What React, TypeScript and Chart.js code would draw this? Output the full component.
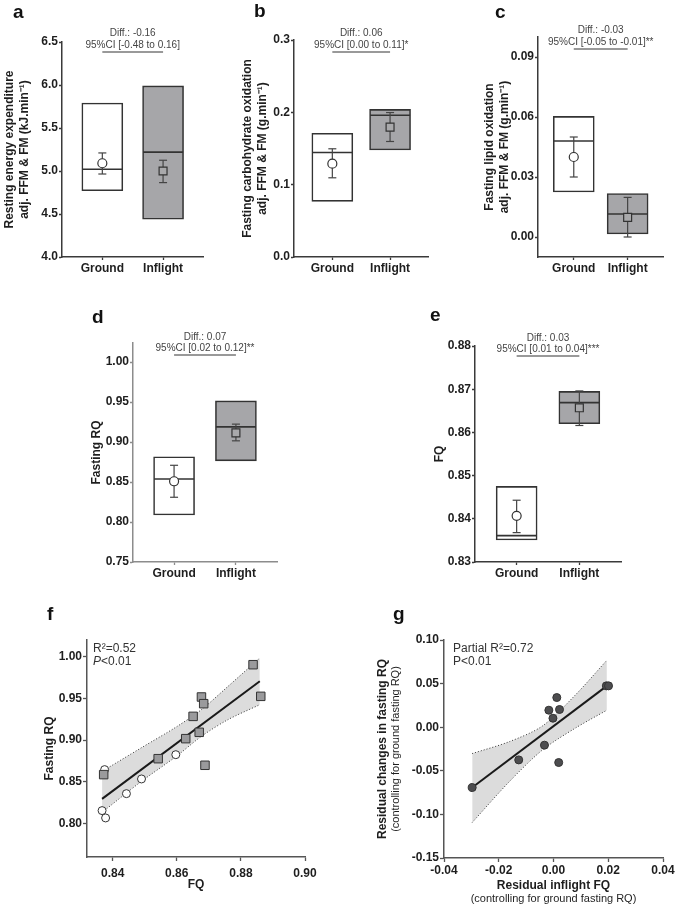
import React, { useEffect, useRef } from 'react';
import { Chart, registerables } from 'chart.js';

Chart.register(...registerables);

const FONT = "'Liberation Sans', Arial, Helvetica, sans-serif";
Chart.defaults.font.family = FONT;
Chart.defaults.color = '#222';

// ---------------- shared categories ----------------
const CATEGORIES = ['Ground', 'Inflight'];
const CATEGORY_X = [1, 2];
const CAT_X_MIN = 0.336;
const CAT_X_MAX = 2.664;

// ---------------- a: resting energy expenditure ----------------
const REE_BOX_LOW = [4.77, 4.44];
const REE_BOX_HIGH = [5.79, 5.99];
const REE_MEDIAN = [5.02, 5.22];
const REE_MEAN = [5.09, 5.0];
const REE_ERR_LOW = [4.965, 4.865];
const REE_ERR_HIGH = [5.21, 5.125];
const REE_TICKS = [4.0, 4.5, 5.0, 5.5, 6.0, 6.5];
const REE_TICK_LABELS = ['4.0', '4.5', '5.0', '5.5', '6.0', '6.5'];

// ---------------- b: carbohydrate oxidation ----------------
const CHO_BOX_LOW = [0.077, 0.148];
const CHO_BOX_HIGH = [0.171, 0.204];
const CHO_MEDIAN = [0.1445, 0.196];
const CHO_MEAN = [0.129, 0.1795];
const CHO_ERR_LOW = [0.1095, 0.1597];
const CHO_ERR_HIGH = [0.1496, 0.1997];
const CHO_TICKS = [0.0, 0.1, 0.2, 0.3];
const CHO_TICK_LABELS = ['0.0', '0.1', '0.2', '0.3'];

// ---------------- c: lipid oxidation ----------------
const LIP_BOX_LOW = [0.0225, 0.0015];
const LIP_BOX_HIGH = [0.0603, 0.0217];
const LIP_MEDIAN = [0.048, 0.0115];
const LIP_MEAN = [0.04, 0.0098];
const LIP_ERR_LOW = [0.03, 0.0];
const LIP_ERR_HIGH = [0.05, 0.0198];
const LIP_TICKS = [0.0, 0.03, 0.06, 0.09];
const LIP_TICK_LABELS = ['0.00', '0.03', '0.06', '0.09'];

// ---------------- d: fasting RQ ----------------
const RQ_BOX_LOW = [0.8088, 0.8766];
const RQ_BOX_HIGH = [0.8816, 0.9516];
const RQ_MEDIAN = [0.8538, 0.919];
const RQ_MEAN = [0.851, 0.9116];
const RQ_ERR_LOW = [0.831, 0.9016];
const RQ_ERR_HIGH = [0.871, 0.9225];
const RQ_TICKS = [0.75, 0.8, 0.85, 0.9, 0.95, 1.0];
const RQ_TICK_LABELS = ['0.75', '0.80', '0.85', '0.90', '0.95', '1.00'];

// ---------------- e: FQ ----------------
const FQ_BOX_LOW = [0.8351, 0.862];
const FQ_BOX_HIGH = [0.8475, 0.8695];
const FQ_MEDIAN = [0.8361, 0.8669];
const FQ_MEAN = [0.8407, 0.8657];
const FQ_ERR_LOW = [0.8368, 0.8616];
const FQ_ERR_HIGH = [0.8443, 0.8696];
const FQ_TICKS = [0.83, 0.84, 0.85, 0.86, 0.87, 0.88];
const FQ_TICK_LABELS = ['0.83', '0.84', '0.85', '0.86', '0.87', '0.88'];

// ---------------- f: Fasting RQ vs FQ ----------------
const F_GROUND_FQ = [0.8375, 0.8367, 0.8378, 0.8443, 0.849, 0.8597];
const F_GROUND_RQ = [0.8647, 0.8156, 0.8068, 0.8359, 0.8535, 0.8826];
const F_INFLIGHT_FQ = [0.8372, 0.8542, 0.8628, 0.8651, 0.867, 0.8677, 0.8684, 0.8688, 0.8838, 0.8862];
const F_INFLIGHT_RQ = [0.8587, 0.8778, 0.9018, 0.9285, 0.9094, 0.9517, 0.9437, 0.8699, 0.9904, 0.9525];
const F_FIT_X = [0.8367, 0.8859];
const F_FIT_Y = [0.8296, 0.9705];
const F_BAND_X = [0.8367, 0.849, 0.86, 0.8677, 0.876, 0.8859];
const F_BAND_UPPER = [0.8626, 0.891, 0.9162, 0.9366, 0.9645, 0.9984];
const F_BAND_LOWER = [0.8135, 0.8507, 0.881, 0.9046, 0.9246, 0.9425];
const F_X_TICKS = [0.84, 0.86, 0.88, 0.9];
const F_X_LABELS = ['0.84', '0.86', '0.88', '0.90'];
const F_Y_TICKS = [0.8, 0.85, 0.9, 0.95, 1.0];
const F_Y_LABELS = ['0.80', '0.85', '0.90', '0.95', '1.00'];

// ---------------- g: residuals ----------------
const G_RES_FQ = [-0.0297, -0.0127, -0.0033, -0.0017, -0.0002, 0.0012, 0.0022, 0.0019, 0.0193, 0.0201];
const G_RES_RQ = [-0.0692, -0.0375, -0.0206, 0.0195, 0.0103, 0.034, 0.0203, -0.0405, 0.0474, 0.0474];
const G_FIT_X = [-0.0297, 0.0195];
const G_FIT_Y = [-0.0692, 0.0474];
const G_BAND_X = [-0.0297, -0.016, -0.004, 0.008, 0.0195];
const G_BAND_UPPER = [-0.0302, -0.0164, 0.0015, 0.037, 0.0768];
const G_BAND_LOWER = [-0.1093, -0.062, -0.026, -0.001, 0.0195];
const G_X_TICKS = [-0.04, -0.02, 0.0, 0.02, 0.04];
const G_X_LABELS = ['-0.04', '-0.02', '0.00', '0.02', '0.04'];
const G_Y_TICKS = [-0.15, -0.1, -0.05, 0.0, 0.05, 0.1];
const G_Y_LABELS = ['-0.15', '-0.10', '-0.05', '0.00', '0.05', '0.10'];

// ---------------- styles ----------------
const GROUND_FILL = '#ffffff';
const INFLIGHT_FILL = '#a6a6a9';
const INFLIGHT_MARK = '#a9a9ab';
const LINE_DARK = '#333333';
const ERR_COLOR = '#444444';
const TEXT_DARK = '#1e1e1e';
const BAND_FILL = '#dcdcdc';

type Rect = { left: number; top: number; width: number; height: number };
type Area = { left: number; top: number; right: number; bottom: number };

interface TextItem {
  text?: string;
  x: number;
  y: number;
  font?: string;
  color?: string;
  align?: CanvasTextAlign;
  baseline?: CanvasTextBaseline;
  rotate?: boolean;
  parts?: { text: string; font: string }[];
}

interface Bracket {
  y: number;
  lines: { text: string; y: number }[];
}

function makeTextPlugin(items: TextItem[], bracket?: Bracket) {
  return {
    id: 'panelText',
    afterDraw(chart: any) {
      const ctx: CanvasRenderingContext2D = chart.ctx;
      ctx.save();
      for (const it of items) {
        ctx.fillStyle = it.color || TEXT_DARK;
        ctx.textBaseline = it.baseline || 'middle';
        if (it.parts) {
          let x = it.x;
          ctx.textAlign = 'left';
          for (const p of it.parts) {
            ctx.font = p.font;
            ctx.fillText(p.text, x, it.y);
            x += ctx.measureText(p.text).width;
          }
          continue;
        }
        ctx.font = it.font || `12px ${FONT}`;
        ctx.textAlign = it.align || 'left';
        if (it.rotate) {
          ctx.save();
          ctx.translate(it.x, it.y);
          ctx.rotate(-Math.PI / 2);
          ctx.fillText(it.text || '', 0, 0);
          ctx.restore();
        } else {
          ctx.fillText(it.text || '', it.x, it.y);
        }
      }
      if (bracket) {
        const xs = chart.scales.x;
        const x1 = xs.getPixelForValue(CATEGORY_X[0]);
        const x2 = xs.getPixelForValue(CATEGORY_X[1]);
        ctx.strokeStyle = '#777';
        ctx.lineWidth = 1.3;
        ctx.beginPath();
        ctx.moveTo(x1, bracket.y);
        ctx.lineTo(x2, bracket.y);
        ctx.stroke();
        ctx.font = `10px ${FONT}`;
        ctx.textAlign = 'center';
        ctx.textBaseline = 'middle';
        ctx.fillStyle = '#444';
        for (const l of bracket.lines) ctx.fillText(l.text, (x1 + x2) / 2, l.y);
      }
      ctx.restore();
    },
  };
}

function axisGrid(color: string, tickLength: number) {
  return {
    display: true,
    drawOnChartArea: false,
    drawTicks: true,
    tickLength,
    tickColor: color,
    tickWidth: 1.3,
    offset: false,
  };
}

interface BoxSpec {
  canvas: Rect;
  area: Area;
  low: number[];
  high: number[];
  median: number[];
  mean: number[];
  errLow: number[];
  errHigh: number[];
  yMin: number;
  yMax: number;
  ticks: number[];
  tickLabels: string[];
  yTitle: string[];
  titleX: number;
  axisColor: string;
  letter: string;
  letterX: number;
  letterY: number;
  diff: string;
  ci: string;
  diffY: number;
  ciY: number;
  bracketY: number;
}

function boxConfig(p: BoxSpec) {
  const yW = p.area.left - p.canvas.left;
  const xH = p.canvas.top + p.canvas.height - p.area.bottom;
  const padTop = p.area.top - p.canvas.top;
  const padRight = p.canvas.left + p.canvas.width - p.area.right;
  const datasets: any[] = [
    {
      type: 'scatter',
      data: CATEGORY_X.map((x, i) => ({ x, y: p.mean[i] })),
      pointStyle: ['circle', 'rect'],
      pointRadius: [4.5, 5.6],
      pointHoverRadius: [4.5, 5.6],
      pointBackgroundColor: [GROUND_FILL, INFLIGHT_MARK],
      pointBorderColor: LINE_DARK,
      pointBorderWidth: 1.2,
      order: 0,
      clip: false,
    },
    ...CATEGORY_X.map((x, i) => ({
      type: 'scatter',
      showLine: true,
      data: [
        { x, y: p.errLow[i] },
        { x, y: p.errHigh[i] },
      ],
      borderColor: ERR_COLOR,
      borderWidth: 1.2,
      pointStyle: 'line',
      pointRadius: 4,
      pointHoverRadius: 4,
      pointBorderColor: ERR_COLOR,
      pointBorderWidth: 1.2,
      order: 1,
      clip: false,
    })),
    {
      type: 'scatter',
      data: CATEGORY_X.map((x, i) => ({ x, y: p.median[i] })),
      pointStyle: 'line',
      pointRadius: 20,
      pointHoverRadius: 20,
      pointBorderColor: LINE_DARK,
      pointBorderWidth: 1.6,
      order: 2,
      clip: false,
    },
    {
      type: 'bar',
      data: CATEGORY_X.map((x, i) => ({ x, y: [p.low[i], p.high[i]] })),
      backgroundColor: [GROUND_FILL, INFLIGHT_FILL],
      borderColor: LINE_DARK,
      borderWidth: 1.6,
      borderSkipped: false,
      barThickness: 41,
      order: 3,
    },
  ];
  const items: TextItem[] = [
    {
      text: p.letter,
      x: p.letterX,
      y: p.letterY,
      font: `bold 19px ${FONT}`,
      baseline: 'alphabetic',
      color: '#111',
    },
  ];
  return {
    type: 'bar',
    data: { datasets },
    options: {
      responsive: false,
      maintainAspectRatio: false,
      animation: false,
      events: [],
      layout: { padding: { top: padTop, right: padRight, left: 0, bottom: 0 } },
      plugins: { legend: { display: false }, tooltip: { enabled: false } },
      scales: {
        x: {
          type: 'linear',
          bounds: 'data',
          min: CAT_X_MIN,
          max: CAT_X_MAX,
          offset: false,
          grid: axisGrid(p.axisColor, 3),
          border: { display: true, color: p.axisColor, width: 1.5 },
          ticks: {
            autoSkip: false,
            maxRotation: 0,
            padding: 1,
            color: TEXT_DARK,
            font: { size: 12, weight: 'bold' },
            callback: (_v: any, i: number) => CATEGORIES[i],
          },
          afterBuildTicks: (s: any) => {
            s.ticks = CATEGORY_X.map((v) => ({ value: v }));
          },
          afterFit: (s: any) => {
            s.height = xH;
          },
        },
        y: {
          type: 'linear',
          bounds: 'data',
          min: p.yMin,
          max: p.yMax,
          grid: axisGrid(p.axisColor, 3),
          border: { display: true, color: p.axisColor, width: 1.5 },
          ticks: {
            autoSkip: false,
            padding: 1,
            color: TEXT_DARK,
            font: { size: 12, weight: 'bold' },
            callback: (_v: any, i: number) => p.tickLabels[i],
          },
          afterBuildTicks: (s: any) => {
            s.ticks = p.ticks.map((v) => ({ value: v }));
          },
          afterFit: (s: any) => {
            s.width = yW;
          },
          title: {
            display: true,
            text: p.yTitle,
            color: TEXT_DARK,
            font: { size: 12, weight: 'bold', lineHeight: 1.2 },
            padding: { top: p.titleX - 7.2, bottom: 0 },
          },
        },
      },
    },
    plugins: [
      makeTextPlugin(items, {
        y: p.bracketY,
        lines: [
          { text: p.diff, y: p.diffY },
          { text: p.ci, y: p.ciY },
        ],
      }),
    ],
  };
}

interface ScatterSpec {
  canvas: Rect;
  area: Area;
  xMin: number;
  xMax: number;
  yMin: number;
  yMax: number;
  xTicks: number[];
  xLabels: string[];
  yTicks: number[];
  yLabels: string[];
  xTitle: string;
  yTitle: string;
  titleX: number;
  xTitleFromBottom: number;
  xTickPadding: number;
  datasets: any[];
  items: TextItem[];
  axisColor: string;
}

function scatterConfig(p: ScatterSpec) {
  const yW = p.area.left - p.canvas.left;
  const xH = p.canvas.top + p.canvas.height - p.area.bottom;
  const padTop = p.area.top - p.canvas.top;
  const padRight = p.canvas.left + p.canvas.width - p.area.right;
  return {
    type: 'scatter',
    data: { datasets: p.datasets },
    options: {
      responsive: false,
      maintainAspectRatio: false,
      animation: false,
      events: [],
      layout: { padding: { top: padTop, right: padRight, left: 0, bottom: 0 } },
      plugins: { legend: { display: false }, tooltip: { enabled: false } },
      scales: {
        x: {
          type: 'linear',
          bounds: 'data',
          min: p.xMin,
          max: p.xMax,
          grid: axisGrid(p.axisColor, 4),
          border: { display: true, color: p.axisColor, width: 1.5 },
          ticks: {
            autoSkip: false,
            maxRotation: 0,
            padding: p.xTickPadding,
            color: TEXT_DARK,
            font: { size: 12, weight: 'bold' },
            callback: (_v: any, i: number) => p.xLabels[i],
          },
          afterBuildTicks: (s: any) => {
            s.ticks = p.xTicks.map((v) => ({ value: v }));
          },
          afterFit: (s: any) => {
            s.height = xH;
          },
          title: {
            display: true,
            text: p.xTitle,
            color: TEXT_DARK,
            font: { size: 12, weight: 'bold', lineHeight: 1.2 },
            padding: { top: 0, bottom: p.xTitleFromBottom - 7.2 },
          },
        },
        y: {
          type: 'linear',
          bounds: 'data',
          min: p.yMin,
          max: p.yMax,
          grid: axisGrid(p.axisColor, 4),
          border: { display: true, color: p.axisColor, width: 1.5 },
          ticks: {
            autoSkip: false,
            padding: 1,
            color: TEXT_DARK,
            font: { size: 12, weight: 'bold' },
            callback: (_v: any, i: number) => p.yLabels[i],
          },
          afterBuildTicks: (s: any) => {
            s.ticks = p.yTicks.map((v) => ({ value: v }));
          },
          afterFit: (s: any) => {
            s.width = yW;
          },
          title: {
            display: true,
            text: p.yTitle,
            color: TEXT_DARK,
            font: { size: 12, weight: 'bold', lineHeight: 1.2 },
            padding: { top: p.titleX - 7.2, bottom: 0 },
          },
        },
      },
    },
    plugins: [makeTextPlugin(p.items)],
  };
}

function bandDatasets(bx: number[], up: number[], lo: number[], fx: number[], fy: number[]) {
  return [
    {
      type: 'line',
      data: fx.map((x, i) => ({ x, y: fy[i] })),
      borderColor: '#1a1a1a',
      borderWidth: 2,
      pointRadius: 0,
      fill: false,
      order: 2,
    },
    {
      type: 'line',
      data: bx.map((x, i) => ({ x, y: up[i] })),
      borderColor: '#333',
      borderWidth: 1,
      borderDash: [1, 2],
      pointRadius: 0,
      tension: 0.3,
      fill: '+1',
      backgroundColor: BAND_FILL,
      order: 4,
    },
    {
      type: 'line',
      data: bx.map((x, i) => ({ x, y: lo[i] })),
      borderColor: '#333',
      borderWidth: 1,
      borderDash: [1, 2],
      pointRadius: 0,
      tension: 0.3,
      fill: false,
      order: 3,
    },
  ];
}

// ---------------- panel definitions ----------------
const PANEL_A: BoxSpec = {
  canvas: { left: 0, top: 0, width: 225, height: 290 },
  area: { left: 62, top: 42, right: 207, bottom: 257 },
  low: REE_BOX_LOW, high: REE_BOX_HIGH, median: REE_MEDIAN, mean: REE_MEAN,
  errLow: REE_ERR_LOW, errHigh: REE_ERR_HIGH,
  yMin: 4.0, yMax: 6.5, ticks: REE_TICKS, tickLabels: REE_TICK_LABELS,
  yTitle: ['Resting energy expenditure', 'adj. FFM & FM (kJ.min\u207B\u00B9)'],
  titleX: 10, axisColor: '#3a3a3a',
  letter: 'a', letterX: 13, letterY: 18,
  diff: 'Diff.: -0.16', ci: '95%CI [-0.48 to 0.16]', diffY: 33.5, ciY: 45.5, bracketY: 52,
};

const PANEL_B: BoxSpec = {
  canvas: { left: 225, top: 0, width: 225, height: 290 },
  area: { left: 294, top: 40, right: 440, bottom: 257 },
  low: CHO_BOX_LOW, high: CHO_BOX_HIGH, median: CHO_MEDIAN, mean: CHO_MEAN,
  errLow: CHO_ERR_LOW, errHigh: CHO_ERR_HIGH,
  yMin: 0, yMax: 0.3, ticks: CHO_TICKS, tickLabels: CHO_TICK_LABELS,
  yTitle: ['Fasting carbohydrate oxidation', 'adj. FFM & FM (g.min\u207B\u00B9)'],
  titleX: 23, axisColor: '#3a3a3a',
  letter: 'b', letterX: 29, letterY: 17,
  diff: 'Diff.: 0.06', ci: '95%CI [0.00 to 0.11]*', diffY: 33, ciY: 45, bracketY: 52,
};

const PANEL_C: BoxSpec = {
  canvas: { left: 450, top: 0, width: 235, height: 290 },
  area: { left: 538, top: 37, right: 683, bottom: 257 },
  low: LIP_BOX_LOW, high: LIP_BOX_HIGH, median: LIP_MEDIAN, mean: LIP_MEAN,
  errLow: LIP_ERR_LOW, errHigh: LIP_ERR_HIGH,
  yMin: -0.01, yMax: 0.1, ticks: LIP_TICKS, tickLabels: LIP_TICK_LABELS,
  yTitle: ['Fasting lipid oxidation', 'adj. FFM & FM (g.min\u207B\u00B9)'],
  titleX: 40, axisColor: '#3a3a3a',
  letter: 'c', letterX: 45, letterY: 18,
  diff: 'Diff.: -0.03', ci: '95%CI [-0.05 to -0.01]**', diffY: 30, ciY: 42, bracketY: 49,
};

const PANEL_D: BoxSpec = {
  canvas: { left: 0, top: 300, width: 300, height: 290 },
  area: { left: 133, top: 343, right: 277, bottom: 562 },
  low: RQ_BOX_LOW, high: RQ_BOX_HIGH, median: RQ_MEDIAN, mean: RQ_MEAN,
  errLow: RQ_ERR_LOW, errHigh: RQ_ERR_HIGH,
  yMin: 0.75, yMax: 1.024, ticks: RQ_TICKS, tickLabels: RQ_TICK_LABELS,
  yTitle: ['Fasting RQ'],
  titleX: 97, axisColor: '#8c8c8c',
  letter: 'd', letterX: 92, letterY: 23,
  diff: 'Diff.: 0.07', ci: '95%CI [0.02 to 0.12]**', diffY: 37, ciY: 48, bracketY: 55,
};

const PANEL_E: BoxSpec = {
  canvas: { left: 300, top: 300, width: 385, height: 290 },
  area: { left: 475, top: 346, right: 621, bottom: 562 },
  low: FQ_BOX_LOW, high: FQ_BOX_HIGH, median: FQ_MEDIAN, mean: FQ_MEAN,
  errLow: FQ_ERR_LOW, errHigh: FQ_ERR_HIGH,
  yMin: 0.83, yMax: 0.88, ticks: FQ_TICKS, tickLabels: FQ_TICK_LABELS,
  yTitle: ['FQ'],
  titleX: 140, axisColor: '#3a3a3a',
  letter: 'e', letterX: 130, letterY: 21,
  diff: 'Diff.: 0.03', ci: '95%CI [0.01 to 0.04]***', diffY: 38, ciY: 49, bracketY: 56,
};

const PANEL_F: ScatterSpec = {
  canvas: { left: 0, top: 590, width: 345, height: 317 },
  area: { left: 87, top: 640, right: 305, bottom: 857 },
  xMin: 0.832, xMax: 0.9, yMin: 0.76, yMax: 1.02,
  xTicks: F_X_TICKS, xLabels: F_X_LABELS, yTicks: F_Y_TICKS, yLabels: F_Y_LABELS,
  xTitle: 'FQ', yTitle: 'Fasting RQ', titleX: 50, xTitleFromBottom: 22, xTickPadding: 5,
  axisColor: '#555',
  datasets: [
    {
      type: 'scatter',
      data: F_INFLIGHT_FQ.map((x, i) => ({ x, y: F_INFLIGHT_RQ[i] })),
      pointStyle: 'rect',
      pointRadius: 6,
      pointHoverRadius: 6,
      pointBackgroundColor: '#9a9a9c',
      pointBorderColor: '#333',
      pointBorderWidth: 1,
      order: 0,
      clip: false,
    },
    {
      type: 'scatter',
      data: F_GROUND_FQ.map((x, i) => ({ x, y: F_GROUND_RQ[i] })),
      pointStyle: 'circle',
      pointRadius: 4,
      pointHoverRadius: 4,
      pointBackgroundColor: '#fff',
      pointBorderColor: '#333',
      pointBorderWidth: 1,
      order: 1,
      clip: false,
    },
    ...bandDatasets(F_BAND_X, F_BAND_UPPER, F_BAND_LOWER, F_FIT_X, F_FIT_Y),
  ],
  items: [
    { text: 'f', x: 47, y: 30, font: `bold 19px ${FONT}`, baseline: 'alphabetic', color: '#111' },
    { text: 'R\u00B2=0.52', x: 93, y: 59, font: `12px ${FONT}`, color: '#333' },
    {
      x: 93,
      y: 72,
      color: '#333',
      parts: [
        { text: 'P', font: `italic 12px ${FONT}` },
        { text: '<0.01', font: `12px ${FONT}` },
      ],
    },
  ],
};

const PANEL_G: ScatterSpec = {
  canvas: { left: 345, top: 590, width: 340, height: 317 },
  area: { left: 444, top: 640, right: 663, bottom: 858 },
  xMin: -0.04, xMax: 0.04, yMin: -0.15, yMax: 0.1,
  xTicks: G_X_TICKS, xLabels: G_X_LABELS, yTicks: G_Y_TICKS, yLabels: G_Y_LABELS,
  xTitle: 'Residual inflight FQ', yTitle: 'Residual changes in fasting RQ',
  titleX: 38, xTitleFromBottom: 21, xTickPadding: 1,
  axisColor: '#555',
  datasets: [
    {
      type: 'scatter',
      data: G_RES_FQ.map((x, i) => ({ x, y: G_RES_RQ[i] })),
      pointStyle: 'circle',
      pointRadius: 4,
      pointHoverRadius: 4,
      pointBackgroundColor: '#4d4d4f',
      pointBorderColor: '#333',
      pointBorderWidth: 1,
      order: 0,
      clip: false,
    },
    ...bandDatasets(G_BAND_X, G_BAND_UPPER, G_BAND_LOWER, G_FIT_X, G_FIT_Y),
  ],
  items: [
    { text: 'g', x: 48, y: 30, font: `bold 19px ${FONT}`, baseline: 'alphabetic', color: '#111' },
    { text: 'Partial R\u00B2=0.72', x: 108, y: 59, font: `12px ${FONT}`, color: '#333' },
    { text: 'P<0.01', x: 108, y: 72, font: `12px ${FONT}`, color: '#333' },
    {
      text: '(controlling for ground fasting RQ)',
      x: 51,
      y: 159,
      font: `11px ${FONT}`,
      align: 'center',
      rotate: true,
      color: TEXT_DARK,
    },
    {
      text: '(controlling for ground fasting RQ)',
      x: 208.5,
      y: 309,
      font: `11px ${FONT}`,
      align: 'center',
      color: TEXT_DARK,
    },
  ],
};

function ChartCanvas({ rect, make }: { rect: Rect; make: () => any }) {
  const ref = useRef<HTMLCanvasElement>(null);
  useEffect(() => {
    if (!ref.current) return;
    const chart = new Chart(ref.current, make());
    return () => chart.destroy();
  }, [make]);
  return (
    <canvas
      ref={ref}
      width={rect.width}
      height={rect.height}
      style={{
        position: 'absolute',
        left: rect.left,
        top: rect.top,
        width: rect.width,
        height: rect.height,
      }}
    />
  );
}

const MAKE_A = () => boxConfig(PANEL_A);
const MAKE_B = () => boxConfig(PANEL_B);
const MAKE_C = () => boxConfig(PANEL_C);
const MAKE_D = () => boxConfig(PANEL_D);
const MAKE_E = () => boxConfig(PANEL_E);
const MAKE_F = () => scatterConfig(PANEL_F);
const MAKE_G = () => scatterConfig(PANEL_G);

export default function App() {
  return (
    <div
      style={{
        position: 'absolute',
        left: 0,
        top: 0,
        width: 685,
        height: 907,
        background: '#ffffff',
        overflow: 'hidden',
      }}
    >
      <ChartCanvas rect={PANEL_A.canvas} make={MAKE_A} />
      <ChartCanvas rect={PANEL_B.canvas} make={MAKE_B} />
      <ChartCanvas rect={PANEL_C.canvas} make={MAKE_C} />
      <ChartCanvas rect={PANEL_D.canvas} make={MAKE_D} />
      <ChartCanvas rect={PANEL_E.canvas} make={MAKE_E} />
      <ChartCanvas rect={PANEL_F.canvas} make={MAKE_F} />
      <ChartCanvas rect={PANEL_G.canvas} make={MAKE_G} />
    </div>
  );
}
